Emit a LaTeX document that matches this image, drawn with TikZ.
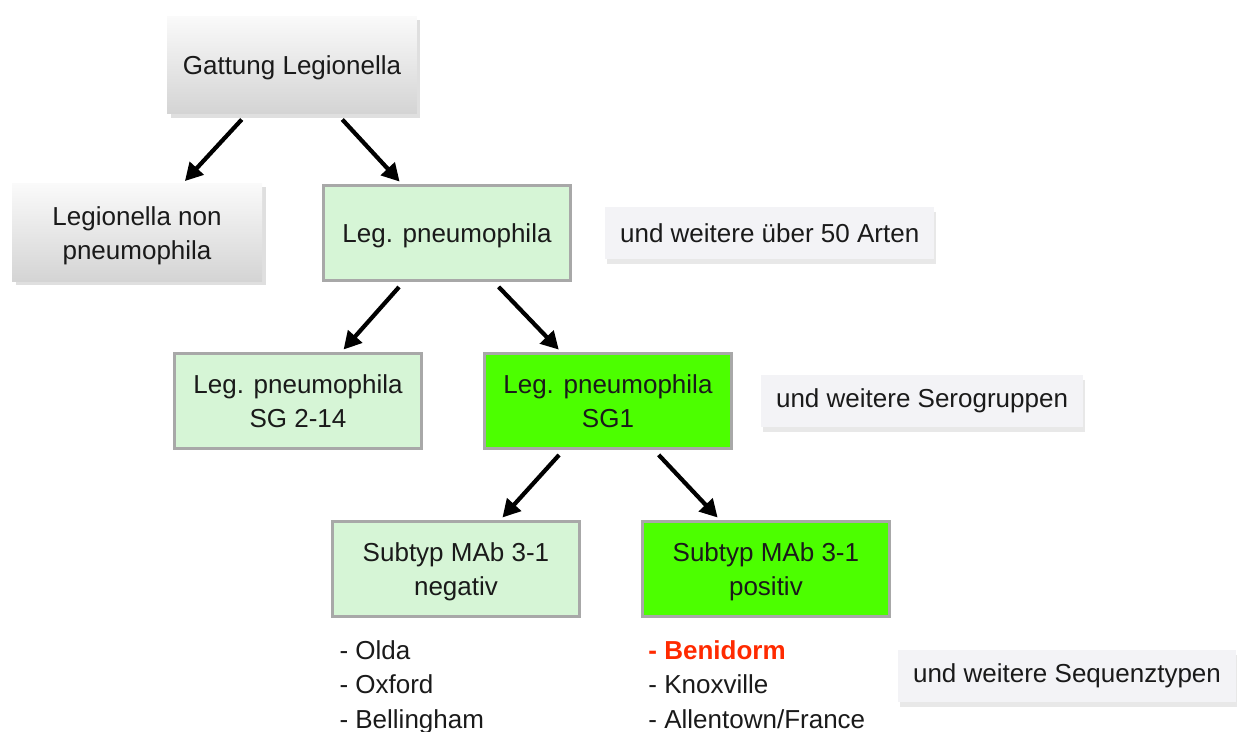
\documentclass[tikz,border=0pt]{standalone}
\usepackage{fontspec}
\setmainfont{Liberation Sans}
\usetikzlibrary{trees,positioning,arrows.meta,shadows}

\definecolor{palegreen}{HTML}{D6F5D6}
\definecolor{vividgreen}{HTML}{4CFF00}
\definecolor{notegray}{HTML}{F3F3F6}
\definecolor{framegray}{HTML}{A8A8A8}
\definecolor{textblack}{HTML}{1A1A1A}
\definecolor{markred}{HTML}{FF2A00}

\begin{document}
\begin{tikzpicture}[x=0.02cm, y=-0.02cm
	, font=\fontsize{14.8}{19.4}\selectfont
	, text=textblack,
% Box styles
		genus/.style={rectangle
							    , top color=gray!4
							    , bottom color=gray!34
							    , draw=none
							    , drop shadow={shadow xshift=2pt, shadow yshift=-2pt, opacity=.25}
							    , minimum width=5cm
							    , minimum height=1.96cm
							    , text depth=0pt
							    , align=center},
		species/.style={rectangle
							    , fill=palegreen
							    , draw=framegray, line width=1.5pt
							    , minimum width=4.94cm
							    , minimum height=1.9cm
							    , text depth=0pt
							    , align=center},
		serotype/.style={species
							    , fill=vividgreen},
		note/.style={rectangle
							    , fill=notegray
							    , drop shadow={shadow xshift=1pt, shadow yshift=-3pt, opacity=.18}
							    , inner xsep=0.3cm
							    , minimum height=1.04cm},
		strains/.style={rectangle
							    , inner sep=0pt
							    , align=left},
% Children and edges style
		edge from parent/.style={draw=black, line width=2.4pt
							    , -{Triangle[length=10pt, width=10.5pt]}
							    , shorten <=4pt, shorten >=2pt},
		level/.style={sibling distance=6.2cm
							    , level distance=3.36cm}
	]
\useasboundingbox (0,0) rectangle (1237,731);
%% Draw boxes and edges
		\node [genus] (gattung) at (292,65) {Gattung Legionella}
	      child {node (nonpneu) [genus] {Legionella non\\pneumophila}}
	      child {node (pneu) [species] {Leg. pneumophila}
	        child {node (sgrest) [species, xshift=0.12cm] {Leg. pneumophila\\SG 2-14}}
	        child {node (sgone) [serotype, xshift=0.12cm] {Leg. pneumophila\\SG1}
	          child {node (mabneg) [species, xshift=0.06cm] {Subtyp MAb 3-1\\negativ}}
	          child {node (mabpos) [serotype, xshift=0.06cm] {Subtyp MAb 3-1\\positiv}}
	          }
	        };
%% Side notes
		\node [note, right=0.66cm of pneu] (noteart) {und weitere über 50 Arten};
		\node [note, right=0.56cm of sgone] (noteserum) {und weitere Serogruppen};
		\node [note] (notesequenz) at (1067,676) {und weitere Sequenztypen};
%% Sequence types
		\node [strains, below right=0.46cm and 0.16cm of mabneg.south west] (listneg)
			{- Olda\\- Oxford\\- Bellingham};
		\node [strains, below right=0.46cm and 0.14cm of mabpos.south west] (listpos)
			{\textcolor{markred}{\bfseries - Benidorm}\\- Knoxville\\- Allentown/France};
\end{tikzpicture}
\end{document}
